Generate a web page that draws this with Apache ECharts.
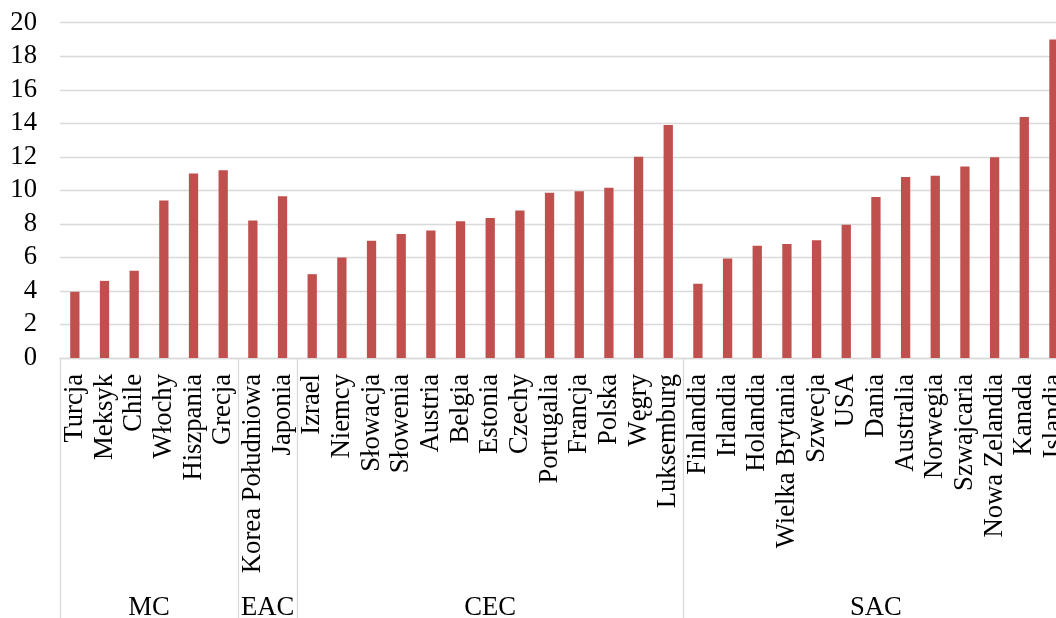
<!DOCTYPE html>
<html>
<head>
<meta charset="utf-8">
<title>Kraje OECD według grup</title>
<script src="https://cdn.jsdelivr.net/npm/echarts@6/dist/echarts.min.js"></script>
<style>
  html, body { margin: 0; padding: 0; background: #ffffff; }
  #chart { width: 1056px; height: 618px; }
</style>
</head>
<body>
<div id="chart"></div>
<script>
// Countries, in plotting order
const categories = [
  'Turcja', 'Meksyk', 'Chile', 'Włochy', 'Hiszpania', 'Grecja',
  'Korea Południowa', 'Japonia',
  'Izrael', 'Niemcy', 'Słowacja', 'Słowenia', 'Austria', 'Belgia', 'Estonia',
  'Czechy', 'Portugalia', 'Francja', 'Polska', 'Węgry', 'Luksemburg',
  'Finlandia', 'Irlandia', 'Holandia', 'Wielka Brytania', 'Szwecja', 'USA',
  'Dania', 'Australia', 'Norwegia', 'Szwajcaria', 'Nowa Zelandia', 'Kanada', 'Islandia'
];

// One value per country
const values = [
  3.95, 4.6, 5.2, 9.4, 11.0, 11.2,
  8.2, 9.65,
  5.0, 6.0, 7.0, 7.4, 7.6, 8.15, 8.35, 8.8, 9.85, 9.95, 10.15, 12.0, 13.9,
  4.43, 5.93, 6.7, 6.8, 7.03, 7.95, 9.6, 10.8, 10.87, 11.43, 11.97, 14.38, 19.0
];

// Country groups and how many consecutive countries each one spans
const groupNames = ['MC', 'EAC', 'CEC', 'SAC'];
const groupCounts = [6, 2, 13, 13];

// Y axis ticks
const yTicks = { min: 0, max: 20, step: 2 };

// Group boundaries and centres in category units
const boundaries = [0];
groupCounts.forEach(c => boundaries.push(boundaries[boundaries.length - 1] + c));
const centres = groupNames.map((_, i) => (boundaries[i] + boundaries[i + 1]) / 2);

const FONT = "'Liberation Serif', 'Times New Roman', serif";
const GRID_GRAY = '#d9d9d9';

const chart = echarts.init(document.getElementById('chart'), null, { renderer: 'canvas' });

chart.setOption({
  animation: false,
  backgroundColor: '#ffffff',
  grid: {
    left: 60, top: 22.7, height: 335.3, width: categories.length * 29.67,
    containLabel: false,
    outerBoundsMode: 'none'
  },
  xAxis: [
    {
      type: 'category',
      data: categories,
      position: 'bottom',
      axisLine: { show: true, lineStyle: { color: GRID_GRAY, width: 1.3 } },
      axisTick: { show: false },
      axisLabel: {
        interval: 0,
        rotate: 90,
        margin: 16,
        color: '#000000',
        fontFamily: FONT,
        fontSize: 26.67
      },
      splitLine: { show: false }
    },
    {
      // Group axis: boundary lines and group names below the country labels
      type: 'value',
      min: 0,
      max: boundaries[boundaries.length - 1],
      position: 'bottom',
      axisLine: { show: false },
      splitLine: { show: false },
      axisTick: {
        show: true,
        customValues: boundaries,
        length: 262,
        lineStyle: { color: GRID_GRAY, width: 1.3 }
      },
      axisLabel: {
        show: true,
        customValues: centres,
        margin: 236,
        color: '#000000',
        fontFamily: FONT,
        fontSize: 26.67,
        formatter: v => {
          const i = centres.findIndex(c => Math.abs(c - v) < 1e-6);
          return i >= 0 ? groupNames[i] : '';
        }
      }
    }
  ],
  yAxis: {
    type: 'value',
    min: yTicks.min,
    max: yTicks.max,
    interval: yTicks.step,
    axisLine: { show: false },
    axisTick: { show: false },
    axisLabel: {
      margin: 23,
      color: '#000000',
      fontFamily: FONT,
      fontSize: 26.67
    },
    splitLine: { show: true, lineStyle: { color: GRID_GRAY, width: 1.3 } }
  },
  series: [
    {
      type: 'bar',
      xAxisIndex: 0,
      data: values,
      barWidth: 9.3,
      itemStyle: { color: '#c0504d' }
    }
  ]
});
</script>
</body>
</html>
